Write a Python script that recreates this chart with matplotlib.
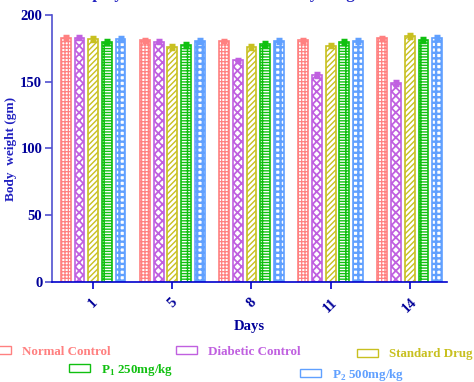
import numpy as np
import matplotlib
matplotlib.use("Agg")
from matplotlib import pyplot as plt
from matplotlib.patches import Patch

plt.rcParams['font.family'] = ['Liberation Serif', 'DejaVu Serif']
plt.rcParams['font.weight'] = 'bold'
plt.rcParams['mathtext.fontset'] = 'custom'
plt.rcParams['mathtext.rm'] = 'Liberation Serif:bold'
plt.rcParams['hatch.linewidth'] = 1.0

# datos
days = ['1', '5', '8', '11', '14']
groups = ['Normal Control', 'Diabetic Control', 'Standard Drug',
          r'P$_\mathregular{1}$ 250mg/kg', r'P$_\mathregular{2}$ 500mg/kg']
normal = [183, 181, 180.5, 181, 182.5]
diabetic = [183, 180, 166, 155, 149]
standard = [182, 176, 176, 177, 184.5]
p1 = [180, 177.5, 178.5, 180, 181]
p2 = [182, 180.5, 180.5, 180.5, 183]
err_normal = [1.2, 1.0, 1.0, 1.0, 1.0]
err_diabetic = [1.2, 1.2, 1.2, 1.5, 1.2]
err_standard = [1.2, 1.2, 1.2, 1.2, 1.5]
err_p1 = [1.5, 1.5, 1.5, 1.5, 1.5]
err_p2 = [1.2, 1.2, 1.2, 1.2, 1.2]

series = [normal, diabetic, standard, p1, p2]
errors = [err_normal, err_diabetic, err_standard, err_p1, err_p2]
colores = ['#FF8080', '#C060E0', '#C8C020', '#10C010', '#60A0FF']
hatches = ['+++++', 'xxxx', '//////', '------||', '+++']
grosor_hatch = [0.9, 1.3, 1.0, 1.0, 1.7]

fig = plt.figure(figsize=(4.74, 3.82), dpi=100)
ax = fig.add_axes([0.1097, 0.2618, 0.8333, 0.699])

x = np.arange(len(days))
paso = 0.173
ancho = 0.125
for i, (vals, errs) in enumerate(zip(series, errors)):
    pos = x + (i - 2) * paso
    barras = ax.bar(pos, vals, width=ancho, facecolor='white',
                    edgecolor=colores[i], hatch=hatches[i], linewidth=1.2,
                    zorder=2)
    for b in barras:
        try:
            b.set_hatch_linewidth(grosor_hatch[i])
        except AttributeError:
            pass
    ax.errorbar(pos, vals, yerr=errs, fmt='none', ecolor=colores[i],
                elinewidth=2.5, capsize=2.5, capthick=2.5, zorder=3)

ax.set_xlim(-0.52, 4.47)
ax.set_ylim(0, 200)
ax.set_yticks([0, 50, 100, 150, 200])
ax.set_xticks(x)
ax.set_xticklabels(days, rotation=45, ha='center', va='top')
ax.spines['top'].set_visible(False)
ax.spines['right'].set_visible(False)
ax.spines['left'].set_color('#5050D0')
ax.spines['bottom'].set_color('#0000CC')
ax.spines['left'].set_linewidth(1.2)
ax.spines['bottom'].set_linewidth(1.2)
ax.tick_params(axis='y', colors='#5050D0', labelcolor='#000099',
               labelsize=10.5, length=5, width=1.2, pad=2)
ax.tick_params(axis='x', colors='#0000CC', labelcolor='#000099',
               labelsize=10.5, length=5, width=1.2, pad=5)
ax.set_ylabel('Body  weight (gm)', color='#2020C0', fontsize=9.5,
              fontweight='bold', labelpad=2)
ax.set_xlabel('Days', color='#000099', fontsize=10.5, fontweight='bold',
              labelpad=3)

# titulo cortado arriba
fig.text(0.06, 1.004, 'Effect of polyherbal formulation on body weight '
         'in STZ induced diabetic rats', color='#2020C0', fontsize=12,
         fontweight='bold', ha='left', va='baseline')

# leyenda: cada entrada en su sitio
lugares = [(-0.040, 0.040), (0.3525, 0.040), (0.7343, 0.033),
           (0.1267, -0.013), (0.614, -0.026)]
for i, nombre in enumerate(groups):
    h = Patch(facecolor='white', edgecolor=colores[i], linewidth=1.0)
    leg = fig.legend([h], [nombre], loc='lower left',
                     bbox_to_anchor=lugares[i], frameon=False,
                     fontsize=9.4, handlelength=1.6, handleheight=0.6,
                     handletextpad=0.8, borderpad=0.2)
    for t in leg.get_texts():
        t.set_color(colores[i])
        t.set_fontweight('bold')

fig.savefig('out.png', dpi=100)
